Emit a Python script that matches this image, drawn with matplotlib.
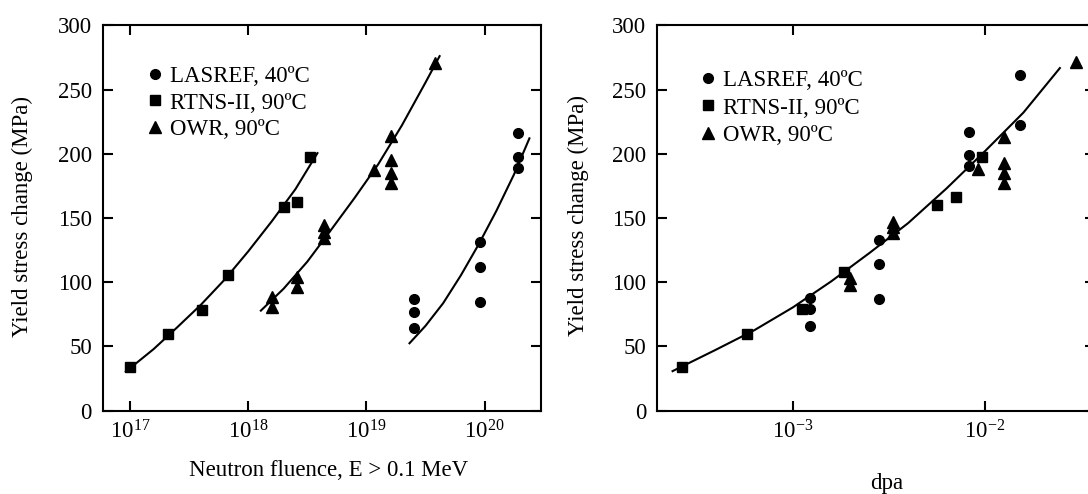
import numpy as np
import matplotlib
matplotlib.use('Agg')
import matplotlib.pyplot as plt
from matplotlib.ticker import NullLocator, FixedLocator, LogFormatterMathtext

plt.rcParams['font.family'] = ['Liberation Serif', 'DejaVu Serif']
plt.rcParams['mathtext.fontset'] = 'custom'
plt.rcParams['mathtext.rm'] = 'Liberation Serif'
plt.rcParams['font.size'] = 16.5

# ---- left panel: yield stress change vs neutron fluence ----
las_flu = [2.55e19, 2.55e19, 2.55e19, 9.07e19, 9.07e19, 9.07e19, 1.93e20, 1.93e20, 1.93e20]
las_ys_flu = [87.0, 77.1, 64.6, 131.6, 112.1, 84.4, 216.0, 197.8, 188.8]
rtns_flu = [1.0e17, 2.1e17, 4.1e17, 6.8e17, 2.0e18, 2.6e18, 3.35e18]
rtns_ys_flu = [34.2, 59.4, 78.3, 106.0, 158.7, 162.6, 197.6]
owr_flu = [1.58e18, 1.58e18, 2.6e18, 2.6e18, 4.34e18, 4.34e18, 4.34e18,
           1.15e19, 1.62e19, 1.62e19, 1.62e19, 1.62e19, 3.78e19]
owr_ys_flu = [88.8, 81.0, 103.9, 96.6, 144.6, 139.4, 134.3,
              187.5, 214.2, 195.3, 184.9, 177.6, 271.0]

# fit lines (log10 fluence, MPa)
fit_rtns_x = [16.964, 17.2, 17.4, 17.6, 17.8, 18.0, 18.2, 18.4, 18.586]
fit_rtns_y = [30.4, 48.0, 65.0, 82.5, 102.0, 124.0, 147.5, 172.5, 200.5]
fit_owr_x = [18.107, 18.3, 18.5, 18.7, 18.9, 19.1, 19.3, 19.5, 19.62]
fit_owr_y = [77.9, 95.0, 116.0, 140.6, 165.6, 191.8, 222.0, 255.4, 276.0]
fit_las_x = [19.365, 19.5, 19.65, 19.8, 19.95, 20.1, 20.25, 20.38]
fit_las_y = [52.5, 66.0, 83.7, 105.4, 129.4, 155.5, 184.0, 212.0]

# ---- right panel: yield stress change vs dpa ----
las_dpa = [1.23e-3, 1.23e-3, 1.23e-3, 2.82e-3, 2.82e-3, 2.82e-3,
           8.28e-3, 8.28e-3, 8.28e-3, 1.52e-2, 1.52e-2]
las_ys_dpa = [88.0, 79.2, 66.0, 132.9, 114.0, 87.0, 217.3, 199.1, 190.6, 261.5, 222.5]
rtns_dpa = [2.65e-4, 5.75e-4, 1.11e-3, 1.85e-3, 5.6e-3, 7.05e-3, 9.6e-3]
rtns_ys_dpa = [34.3, 59.5, 79.2, 107.8, 160.2, 166.3, 197.8]
owr_dpa = [1.98e-3, 1.98e-3, 3.33e-3, 3.33e-3, 3.33e-3, 9.16e-3,
           1.26e-2, 1.26e-2, 1.26e-2, 1.26e-2, 2.98e-2]
owr_ys_dpa = [103.1, 97.9, 147.2, 143.3, 138.2, 188.0, 212.9, 193.1, 185.4, 177.1, 271.8]

fit_dpa_x = [-3.626, -3.40, -3.20, -3.00, -2.80, -2.60, -2.40, -2.20, -2.00, -1.80, -1.61]
fit_dpa_y = [30.8, 47.5, 62.7, 80.4, 100.7, 122.9, 146.0, 173.0, 202.0, 232.0, 266.7]

labels = ['LASREF, 40ºC', 'RTNS-II, 90ºC', 'OWR, 90ºC']
yticks = [0, 50, 100, 150, 200, 250, 300]

fig = plt.figure(figsize=(10.88, 4.94), dpi=100)
ax1 = fig.add_axes([103 / 1088, 83.3 / 494, 438 / 1088, 385.4 / 494])
ax2 = fig.add_axes([657.4 / 1088, 83.3 / 494, 438 / 1088, 385.4 / 494])


def style(ax, xlim, decades):
    ax.set_xscale('log')
    ax.set_xlim(xlim)
    ax.set_ylim(0, 300)
    ax.xaxis.set_major_locator(FixedLocator(decades))
    ax.xaxis.set_major_formatter(LogFormatterMathtext())
    ax.xaxis.set_minor_locator(NullLocator())
    ax.set_yticks(yticks)
    ax.tick_params(which='major', direction='in', length=7, width=1.5,
                   top=True, right=True, labelsize=16.5)
    ax.tick_params(axis='y', pad=8)
    ax.tick_params(axis='x', pad=7)
    for sp in ax.spines.values():
        sp.set_linewidth(1.5)


def points(ax, xl, yl, xr, yr, xo, yo):
    ax.plot(xl, yl, 'o', color='k', ms=7, label=labels[0])
    ax.plot(xr, yr, 's', color='k', ms=7, label=labels[1])
    ax.plot(xo, yo, '^', color='k', ms=8, label=labels[2])


style(ax1, (10 ** 16.771, 10 ** 20.478), [1e17, 1e18, 1e19, 1e20])
points(ax1, las_flu, las_ys_flu, rtns_flu, rtns_ys_flu, owr_flu, owr_ys_flu)
for fx, fy in [(fit_rtns_x, fit_rtns_y), (fit_owr_x, fit_owr_y), (fit_las_x, fit_las_y)]:
    ax1.plot(10 ** np.array(fx), fy, color='k', lw=1.5)
ax1.set_xlabel('Neutron fluence, E > 0.1 MeV', fontsize=16.5, va='center')
ax1.set_ylabel('Yield stress change (MPa)', fontsize=16.5, va='center')
ax1.xaxis.set_label_coords(0.515, -0.154)
ax1.yaxis.set_label_coords(-0.184, 0.503)
ax1.legend(loc='upper left', bbox_to_anchor=(0.103, 0.894), frameon=False,
           numpoints=1, handlelength=0.6, handletextpad=0.35, labelspacing=0.23,
           borderpad=0, borderaxespad=0, fontsize=16.5)

style(ax2, (10 ** -3.705, 10 ** -1.425), [1e-3, 1e-2])
points(ax2, las_dpa, las_ys_dpa, rtns_dpa, rtns_ys_dpa, owr_dpa, owr_ys_dpa)
ax2.plot(10 ** np.array(fit_dpa_x), fit_dpa_y, color='k', lw=1.5)
ax2.set_xlabel('dpa', fontsize=16.5, va='center')
ax2.set_ylabel('Yield stress change (MPa)', fontsize=16.5, va='center')
ax2.xaxis.set_label_coords(0.524, -0.188)
ax2.yaxis.set_label_coords(-0.180, 0.506)
ax2.legend(loc='upper left', bbox_to_anchor=(0.10, 0.884), frameon=False,
           numpoints=1, handlelength=0.6, handletextpad=0.35, labelspacing=0.28,
           borderpad=0, borderaxespad=0, fontsize=16.5)

fig.savefig('out.png', dpi=100)
